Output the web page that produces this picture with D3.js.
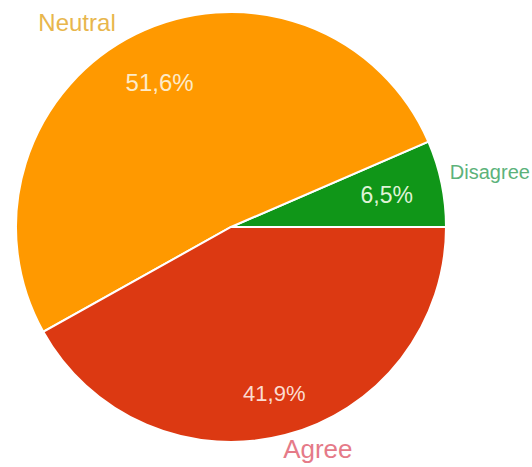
<!DOCTYPE html>
<html>
<head>
<meta charset="utf-8">
<script src="https://cdn.jsdelivr.net/npm/d3@7"></script>
<style>
  html, body { margin: 0; padding: 0; background: #fff; }
  svg { display: block; font-family: Arial, "Liberation Sans", sans-serif; }
</style>
</head>
<body>
<div id="chart"></div>
<script>
// datos
const categories = ["Disagree", "Neutral", "Agree"];
const values = [6.5, 51.6, 41.9];
const percentLabels = ["6,5%", "51,6%", "41,9%"];

const width = 532, height = 467;
const cx = 231, cy = 227, radius = 215;

const color = d3.scaleOrdinal()
    .domain(categories)
    .range(["#109618", "#ff9900", "#dc3912"]);

// color de las etiquetas de fuera (más apagado)
const labelColor = d3.scaleOrdinal()
    .domain(categories)
    .range(["#5cb27a", "#e8b64c", "#e57a88"]);

const innerColor = d3.scaleOrdinal()
    .domain(categories)
    .range(["#dff3d6", "#fdebc9", "#fbdcd0"]);

const svg = d3.select("#chart").append("svg")
    .attr("width", width)
    .attr("height", height);

const g = svg.append("g")
    .attr("transform", "translate(" + cx + "," + cy + ")");

// empieza a las 3 y gira en sentido antihorario
const pie = d3.pie()
    .sort(null)
    .value(d => d.value)
    .startAngle(Math.PI / 2)
    .endAngle(Math.PI / 2 - 2 * Math.PI);

const data = categories.map((c, i) => ({ name: c, value: values[i], pct: percentLabels[i] }));
const arcs = pie(data);

const arc = d3.arc().innerRadius(0).outerRadius(radius);

g.selectAll("path")
    .data(arcs)
    .enter().append("path")
    .attr("d", arc)
    .attr("fill", d => color(d.data.name))
    .attr("stroke", "#fff")
    .attr("stroke-width", 2);

// tamaño y radio relativo de los porcentajes
const pctStyle = {
    "Disagree": { size: 23, r: 0.74 },
    "Neutral":  { size: 24, r: 0.75 },
    "Agree":    { size: 22, r: 0.8 }
};

g.selectAll(".pct")
    .data(arcs)
    .enter().append("text")
    .attr("class", "pct")
    .attr("transform", d => {
        const k = radius * pctStyle[d.data.name].r;
        return "translate(" + d3.arc().innerRadius(k).outerRadius(k).centroid(d) + ")";
    })
    .attr("text-anchor", "middle")
    .attr("dy", "0.35em")
    .style("font-size", d => pctStyle[d.data.name].size + "px")
    .attr("fill", d => innerColor(d.data.name))
    .text(d => d.data.pct);

// etiquetas exteriores: ángulo (grados, antihorario desde las 3) y radio relativo
const outer = {
    "Disagree": { ang: 14.2, r: 1.05, anchor: "start", size: 20 },
    "Neutral":  { ang: 127,  r: 1.19, anchor: "middle", size: 24 },
    "Agree":    { ang: 291.4, r: 1.107, anchor: "middle", size: 26 }
};

g.selectAll(".lbl")
    .data(arcs)
    .enter().append("text")
    .attr("class", "lbl")
    .attr("x", d => Math.cos(outer[d.data.name].ang * Math.PI / 180) * radius * outer[d.data.name].r)
    .attr("y", d => -Math.sin(outer[d.data.name].ang * Math.PI / 180) * radius * outer[d.data.name].r)
    .attr("dy", "0.35em")
    .attr("text-anchor", d => outer[d.data.name].anchor)
    .style("font-size", d => outer[d.data.name].size + "px")
    .attr("fill", d => labelColor(d.data.name))
    .text(d => d.data.name);
</script>
</body>
</html>
